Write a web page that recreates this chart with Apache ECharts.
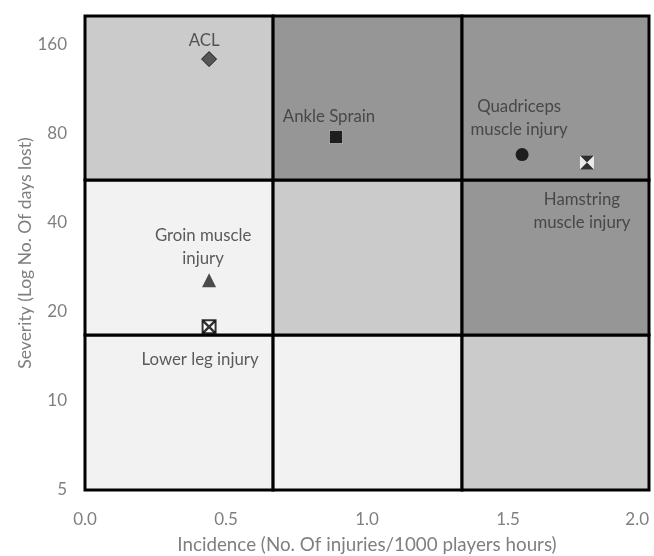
<!DOCTYPE html>
<html>
<head>
<meta charset="utf-8">
<script src="https://cdn.jsdelivr.net/npm/echarts@6/dist/echarts.min.js"></script>
<style>
  html, body { margin: 0; padding: 0; background: #ffffff; }
  #chart { width: 654px; height: 556px; }
</style>
</head>
<body>
<div id="chart"></div>
<script>
// ---- data ----
const injuries = ['ACL', 'Ankle Sprain', 'Quadriceps\nmuscle injury', 'Hamstring\nmuscle injury', 'Groin muscle\ninjury', 'Lower leg injury'];
const incidence = [0.44, 0.89, 1.55, 1.78, 0.44, 0.44];
const severity = [143, 78, 68, 64, 25.6, 17.8];
const xTicks = [0, 0.5, 1.0, 1.5, 2.0];
const yTicks = [5, 10, 20, 40, 80, 160];
const incidenceBounds = [0, 0.667, 1.337, 2.0];
const severityBounds = [5, 16.7, 55.8, 200];
// shade level per cell: rows bottom->top, columns left->right
const cellLevels = [
  [0, 0, 1],
  [0, 1, 2],
  [1, 2, 2]
];

// ---- helpers ----
const yBase = yTicks[0];
const ly = v => Math.log2(v / yBase);
const shadePalette = ['#f2f2f2', '#cbcbcb', '#969696'];
const FONT = 'Lato';

const areas = [];
for (let r = 0; r < 3; r++) {
  for (let c = 0; c < 3; c++) {
    areas.push([
      { xAxis: incidenceBounds[c], yAxis: ly(severityBounds[r]),
        itemStyle: { color: shadePalette[cellLevels[r][c]], borderColor: '#000', borderWidth: 3, opacity: 1 } },
      { xAxis: incidenceBounds[c + 1], yAxis: ly(severityBounds[r + 1]) }
    ]);
  }
}

const pt = i => [[incidence[i], ly(severity[i])]];
const labelStyle = { color: '#333333', fontFamily: FONT, fontSize: 16.8, lineHeight: 23 };

const markerCfg = [
  { symbol: 'diamond', size: 15, item: { color: '#383838', borderColor: '#000', borderWidth: 1 },
    label: { position: 'top', distance: -1, offset: [-5, 0] } },
  { symbol: 'rect', size: 13, item: { color: '#000', borderColor: '#fff', borderWidth: 1, borderType: 'dotted' },
    label: { position: 'top', distance: 2, offset: [-7, 0] } },
  { symbol: 'circle', size: 13, item: { color: '#000' },
    label: { position: 'top', distance: 7.5, offset: [-3, 0] } },
  null,
  { symbol: 'triangle', size: 14, item: { color: '#202020' },
    label: { position: 'top', distance: 3, offset: [-6, 0] } },
  null
];

const series = [{
  type: 'scatter', data: [], silent: true, z: 1,
  markArea: { silent: true, data: areas }
}];

markerCfg.forEach((m, i) => {
  if (!m) return;
  series.push({
    type: 'scatter', name: injuries[i], data: pt(i), z: 5,
    symbol: m.symbol, symbolSize: m.size, itemStyle: m.item,
    label: Object.assign({ show: true, formatter: injuries[i], align: 'center' }, labelStyle, m.label)
  });
});

// Hamstring: white square with black hourglass
series.push({
  type: 'scatter', name: injuries[3] + ' base', data: pt(3), z: 5,
  symbol: 'rect', symbolSize: 14, itemStyle: { color: '#ffffff' },
  label: Object.assign({ show: true, formatter: injuries[3], align: 'center', position: 'bottom', distance: 19, offset: [-5, 0] }, labelStyle)
});
series.push({
  type: 'scatter', name: injuries[3], data: pt(3), z: 6,
  symbol: 'path://M0,0L10,0L5,5ZM0,10L10,10L5,5Z', symbolSize: 14,
  itemStyle: { color: '#000' }
});

// Lower leg: white square, black border and X
series.push({
  type: 'scatter', name: injuries[5] + ' base', data: pt(5), z: 5,
  symbol: 'rect', symbolSize: 13, itemStyle: { color: '#ffffff', borderColor: '#000', borderWidth: 2 },
  label: Object.assign({ show: true, formatter: injuries[5], align: 'center', position: 'bottom', distance: 14, offset: [-9, 0] }, labelStyle)
});
series.push({
  type: 'scatter', name: injuries[5], data: pt(5), z: 6,
  symbol: 'path://M0,0L10,10M10,0L0,10', symbolSize: 12,
  itemStyle: { color: 'none', borderColor: '#000', borderWidth: 2.5 }
});

const chart = echarts.init(document.getElementById('chart'), null, { renderer: 'canvas' });
chart.setOption({
  animation: false,
  backgroundColor: '#ffffff',
  grid: { left: 85, right: 5, top: 16, bottom: 66, containLabel: false, outerBoundsMode: 'none' },
  xAxis: {
    type: 'value', min: xTicks[0], max: xTicks[xTicks.length - 1], interval: xTicks[1] - xTicks[0],
    name: 'Incidence (No. Of injuries/1000 players hours)',
    nameLocation: 'middle', nameGap: 45, nameMoveOverlap: false,
    nameTextStyle: { color: '#7f7f7f', fontFamily: FONT, fontSize: 18.8 },
    axisLine: { show: false }, axisTick: { show: false }, splitLine: { show: false },
    axisLabel: { color: '#7f7f7f', fontFamily: FONT, fontSize: 17, margin: 21,
      formatter: v => v.toFixed(1), alignMaxLabel: 'right' }
  },
  yAxis: {
    type: 'value', min: 0, max: ly(severityBounds[3]), interval: 1,
    name: 'Severity (Log No. Of days lost)',
    nameLocation: 'middle', nameGap: 51, nameMoveOverlap: false,
    nameTextStyle: { color: '#7f7f7f', fontFamily: FONT, fontSize: 17.5 },
    axisLine: { show: false }, axisTick: { show: false }, splitLine: { show: false },
    axisLabel: { color: '#7f7f7f', fontFamily: FONT, fontSize: 17, margin: 18, showMaxLabel: false,
      formatter: v => {
        const t = yTicks.find(t => Math.abs(ly(t) - v) < 1e-6);
        return t === undefined ? '' : String(t);
      } }
  },
  series: series
});
</script>
</body>
</html>
